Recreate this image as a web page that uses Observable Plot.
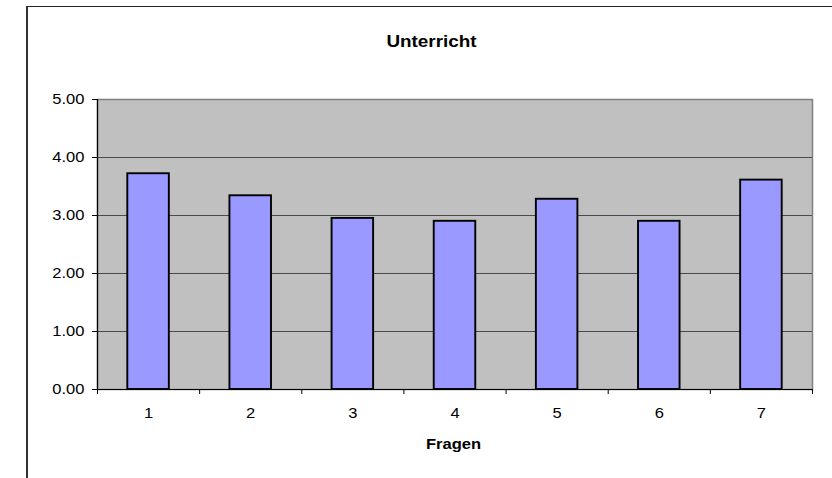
<!DOCTYPE html>
<html><head><meta charset="utf-8">
<script src="https://cdn.jsdelivr.net/npm/d3@7"></script>
<script src="https://cdn.jsdelivr.net/npm/@observablehq/plot@0.6"></script>
<style>
html,body{margin:0;padding:0;background:#fff;overflow:hidden;width:832px;height:478px;}
#chart{position:absolute;left:0;top:0;}
#frame{position:absolute;left:26px;top:6px;width:900px;height:600px;border-left:2px solid #333;border-top:1px solid #222;box-sizing:border-box;pointer-events:none;}
</style></head><body>
<div id="chart"></div>
<div id="frame"></div>
<script>
const title = "Unterricht";
const xTitle = "Fragen";
const categories = [1, 2, 3, 4, 5, 6, 7];
const values = [3.72, 3.34, 2.95, 2.90, 3.28, 2.90, 3.61];
const yTicks = [0, 1, 2, 3, 4, 5];
const gridValues = [1, 2, 3, 4];

const data = categories.map((q, i) => ({q, v: values[i]}));
const bounds = d3.range(categories.length + 1).map(i => categories[0] - 0.5 + i);

const chart = Plot.plot({
  width: 832,
  height: 478,
  marginLeft: 97,
  marginRight: 20,
  marginTop: 99,
  marginBottom: 89,
  style: {fontFamily: "'Liberation Sans', Arial, sans-serif", fontSize: "14px", background: "transparent", color: "#000"},
  x: {type: "linear", domain: [bounds[0], bounds[bounds.length - 1]], axis: null},
  y: {domain: [0, 5], axis: null},
  marks: [
    Plot.frame({fill: "#c0c0c0", stroke: "#808080", strokeWidth: 1.5}),
    Plot.ruleY(gridValues, {stroke: "#4a4a4a", strokeWidth: 1}),
    Plot.rectY(data, {x1: d => d.q - 0.5, x2: d => d.q + 0.5, y: "v", insetLeft: 30.3, insetRight: 30.3, fill: "#9999ff", stroke: "#000", strokeWidth: 1.9}),
    Plot.ruleX([bounds[0]], {stroke: "#000", strokeWidth: 1.2}),
    Plot.ruleY([0], {stroke: "#000", strokeWidth: 1.2}),
    Plot.axisY(yTicks, {tickSize: 5, tickPadding: 8, tickFormat: d3.format(".2f"), stroke: "#000", label: null}),
    Plot.axisX(bounds, {tickSize: 5, tickFormat: () => "", stroke: "#000", label: null}),
    Plot.axisX(categories, {tickSize: 0, tickPadding: 19, tickFormat: d => String(d), label: null}),
    Plot.text([title], {frameAnchor: "top", dx: -23.5, dy: -52.3, lineAnchor: "bottom", fontWeight: "bold", fontSize: 16, fill: "#000"}),
    Plot.text([xTitle], {frameAnchor: "bottom", dx: -1.5, dy: 59.3, lineAnchor: "bottom", fontWeight: "bold", fontSize: 14, fill: "#000"})
  ]
});
document.getElementById("chart").appendChild(chart);

// widen glyphs slightly to match the reference's wider text rendering
chart.querySelectorAll("text").forEach(t => {
  const targets = t.querySelectorAll("tspan").length ? t.querySelectorAll("tspan") : [t];
  targets.forEach(el => {
    if (!el.textContent) return;
    const len = el.getComputedTextLength();
    if (len > 0) {
      el.setAttribute("textLength", (len * 1.18).toFixed(2));
      el.setAttribute("lengthAdjust", "spacingAndGlyphs");
    }
  });
});
</script>
</body></html>
